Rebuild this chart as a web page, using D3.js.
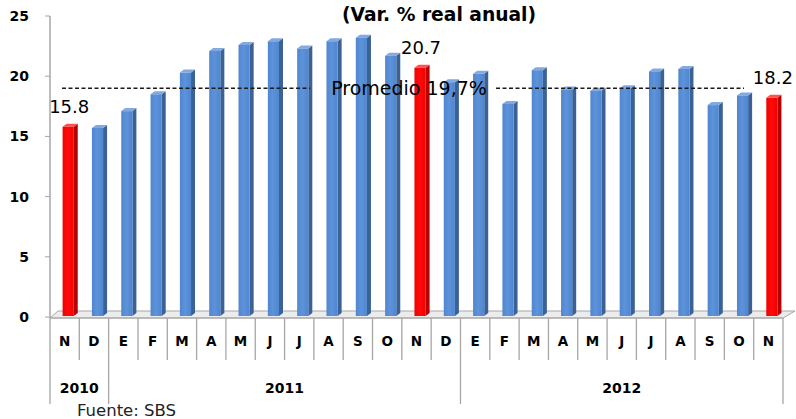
<!DOCTYPE html>
<meta charset="utf-8">
<style>
body { margin: 0; background: #fff; }
text { font-family: "DejaVu Sans", sans-serif; fill: #000; }
.tick-y { font-weight: bold; font-size: 14px; }
.mes { font-weight: bold; font-size: 13.5px; }
.anio { font-weight: bold; font-size: 14px; }
</style>
<body>
<script src="https://cdn.jsdelivr.net/npm/d3@7/dist/d3.min.js"></script>
<script>

// datos
var meses = ["N","D","E","F","M","A","M","J","J","A","S","O","N","D","E","F","M","A","M","J","J","A","S","O","N"];
var valores = [15.8,15.7,17.1,18.5,20.3,22.1,22.6,22.9,22.3,22.9,23.2,21.7,20.7,19.5,20.2,17.7,20.5,18.9,18.8,19.0,20.4,20.6,17.6,18.4,18.2];
var resaltados = [0, 12, 24];          // barras en rojo
var etiquetas = {0: "15.8", 12: "20.7", 24: "18.2"};
var anios = [{nombre: "2010", desde: 0, hasta: 2}, {nombre: "2011", desde: 2, hasta: 14}, {nombre: "2012", desde: 14, hasta: 25}];
var yTicks = [0, 5, 10, 15, 20, 25];
var promedio = 19.0;                   // posicion de la linea
var promedioTexto = "Promedio 19,7%";

var width = 796, height = 419;

var svg = d3.select("body").append("svg")
    .attr("width", width)
    .attr("height", height);

var x = d3.scaleBand().domain(d3.range(meses.length)).range([50, 783]);
var y = d3.scaleLinear().domain([0, 25]).range([317, 16]);
var bw = x.bandwidth();

// degradados de las barras
var defs = svg.append("defs");
function degradado(id, c1, c2) {
    var g = defs.append("linearGradient").attr("id", id)
        .attr("x1", "0%").attr("x2", "100%").attr("y1", "0%").attr("y2", "0%");
    g.append("stop").attr("offset", "0%").attr("stop-color", c1);
    g.append("stop").attr("offset", "45%").attr("stop-color", c2);
    g.append("stop").attr("offset", "100%").attr("stop-color", c1);
}
degradado("gAzul", "#4f86cf", "#5d93da");
degradado("gRojo", "#f20000", "#ff0a0a");

// titulo
svg.append("text")
    .attr("x", 439).attr("y", 21)
    .attr("text-anchor", "middle")
    .style("font-weight", "bold").style("font-size", "18.7px")
    .text("(Var. % real anual)");

// piso 3D
svg.append("polygon")
    .attr("points", [[50, 318], [783, 318], [795, 311], [58, 311]].join(" "))
    .attr("fill", "#ececec")
    .attr("stroke", "#a6a6a6")
    .attr("stroke-width", 1);

// eje Y
svg.append("line")
    .attr("x1", 50).attr("x2", 50)
    .attr("y1", y(25)).attr("y2", 318)
    .attr("stroke", "#a6a6a6").attr("stroke-width", 1.5);

svg.selectAll(".ytick").data(yTicks).enter().append("line")
    .attr("x1", 45).attr("x2", 50)
    .attr("y1", function(d) { return y(d); })
    .attr("y2", function(d) { return y(d); })
    .attr("stroke", "#a6a6a6");

svg.selectAll(".tick-y").data(yTicks).enter().append("text")
    .attr("class", "tick-y")
    .attr("x", 29)
    .attr("y", function(d) { return y(d) + 5; })
    .attr("text-anchor", "end")
    .text(function(d) { return d; });

// barras 3D
var fx0 = bw * 0.43, fw = bw * 0.38, dx = 4, dy = 3;

var barras = svg.selectAll(".barra").data(valores).enter().append("g")
    .attr("class", "barra");

function esRojo(i) { return resaltados.indexOf(i) >= 0; }

barras.append("polygon")   // lado
    .attr("points", function(d, i) {
        var x1 = x(i) + fx0 + fw, t = y(d), b = y(0) - 1;
        return [[x1, t], [x1 + dx, t - dy], [x1 + dx, b - dy], [x1, b]].join(" ");
    })
    .attr("fill", function(d, i) { return esRojo(i) ? "#b80000" : "#3a6296"; });

barras.append("polygon")   // tapa
    .attr("points", function(d, i) {
        var x0 = x(i) + fx0, x1 = x0 + fw, t = y(d);
        return [[x0, t], [x0 + dx, t - dy], [x1 + dx, t - dy], [x1, t]].join(" ");
    })
    .attr("fill", function(d, i) { return esRojo(i) ? "#ff5050" : "#82a9e0"; });

barras.append("rect")      // frente
    .attr("x", function(d, i) { return x(i) + fx0; })
    .attr("y", function(d) { return y(d); })
    .attr("width", fw)
    .attr("height", function(d) { return y(0) - 1 - y(d); })
    .attr("fill", function(d, i) { return esRojo(i) ? "url(#gRojo)" : "url(#gAzul)"; });

// etiquetas de datos
svg.selectAll(".etq").data(resaltados).enter().append("text")
    .attr("x", function(i) { return x(i) + fx0 + fw / 2 + 1; })
    .attr("y", function(i) { return y(valores[i]) - 14; })
    .attr("text-anchor", "middle")
    .style("font-size", "18px")
    .text(function(i) { return etiquetas[i]; });

// linea de promedio
var yp = y(promedio);
svg.append("line")
    .attr("x1", 62).attr("x2", 310).attr("y1", yp).attr("y2", yp)
    .attr("stroke", "#1a1a1a").attr("stroke-width", 1.5)
    .attr("stroke-dasharray", "4,2.5");
svg.append("line")
    .attr("x1", 496).attr("x2", 744).attr("y1", yp).attr("y2", yp)
    .attr("stroke", "#1a1a1a").attr("stroke-width", 1.5)
    .attr("stroke-dasharray", "4,2.5");
svg.append("text")
    .attr("x", 409).attr("y", yp + 7)
    .attr("text-anchor", "middle")
    .style("font-size", "19px")
    .text(promedioTexto);

// eje X: meses
svg.append("line")
    .attr("x1", 50).attr("x2", 783).attr("y1", 318).attr("y2", 318)
    .attr("stroke", "#a6a6a6");

svg.selectAll(".sep").data(d3.range(meses.length + 1)).enter().append("line")
    .attr("x1", function(i) { return i < meses.length ? x(i) : x(i - 1) + bw; })
    .attr("x2", function(i) { return i < meses.length ? x(i) : x(i - 1) + bw; })
    .attr("y1", 318).attr("y2", 360)
    .attr("stroke", "#a6a6a6").attr("stroke-width", 1.3);

svg.selectAll(".mes").data(meses).enter().append("text")
    .attr("class", "mes")
    .attr("x", function(d, i) { return x(i) + bw / 2; })
    .attr("y", 346)
    .attr("text-anchor", "middle")
    .text(function(d) { return d; });

// eje X: años
var bordes = [0, 2, 14, 25];
svg.selectAll(".sepAnio").data(bordes).enter().append("line")
    .attr("x1", function(i) { return i < meses.length ? x(i) : x(i - 1) + bw; })
    .attr("x2", function(i) { return i < meses.length ? x(i) : x(i - 1) + bw; })
    .attr("y1", 360).attr("y2", 404)
    .attr("stroke", "#a6a6a6").attr("stroke-width", 1.3);

svg.selectAll(".anio").data(anios).enter().append("text")
    .attr("class", "anio")
    .attr("x", function(d) { return (x(d.desde) + x(d.hasta - 1) + bw) / 2; })
    .attr("y", 393)
    .attr("text-anchor", "middle")
    .text(function(d) { return d.nombre; });

// fuente
svg.append("text")
    .attr("x", 77).attr("y", 416)
    .style("font-size", "16.5px")
    .style("fill", "#222")
    .text("Fuente: SBS");

</script>
</body>
